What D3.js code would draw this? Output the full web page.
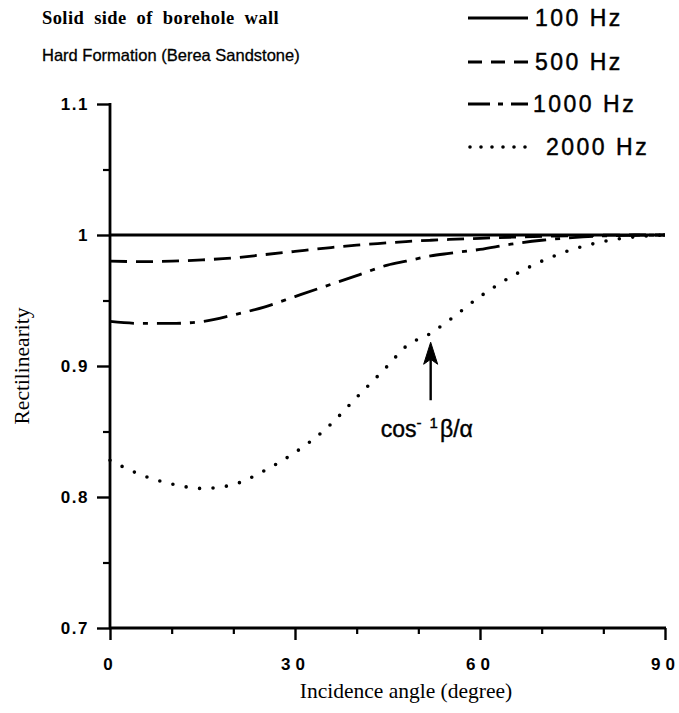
<!DOCTYPE html>
<html>
<head>
<meta charset="utf-8">
<script src="https://cdn.jsdelivr.net/npm/d3@7"></script>
<style>
  html, body { margin: 0; padding: 0; background: #fff; }
  svg { display: block; }
</style>
</head>
<body>
<script>
// ---- data ----
const angles = [0, 5, 10, 15, 20, 25, 30, 35, 40, 45, 48, 52, 55, 60, 65, 70, 75, 80, 85, 90];
const hz100  = [1, 1, 1, 1, 1, 1, 1, 1, 1, 1, 1, 1, 1, 1, 1, 1, 1, 1, 1, 1];
const hz500  = [0.980, 0.9797, 0.980, 0.981, 0.9825, 0.985, 0.9875, 0.990, 0.9923, 0.994, 0.995, 0.996, 0.9966, 0.9975, 0.9983, 0.999, 0.9995, 0.9998, 1.0, 1.0];
const hz1000 = [0.934, 0.9325, 0.9325, 0.934, 0.939, 0.945, 0.953, 0.961, 0.969, 0.977, 0.980, 0.984, 0.986, 0.989, 0.993, 0.996, 0.998, 0.9993, 0.9998, 1.0];
const hz2000 = [0.828, 0.817, 0.810, 0.8065, 0.8095, 0.820, 0.834, 0.852, 0.876, 0.900, 0.915, 0.925, 0.935, 0.953, 0.968, 0.980, 0.989, 0.995, 0.9985, 1.0];
const seriesNames = ["100 Hz", "500 Hz", "1000 Hz", "2000 Hz"];
const xTickLabels = [0, 30, 60, 90];
const yTickLabels = [0.7, 0.8, 0.9, 1.0, 1.1];
const titleText = "Solid side of borehole wall";
const subtitleText = "Hard Formation (Berea Sandstone)";
const xTitle = "Incidence angle (degree)";
const yTitle = "Rectilinearity";
const annotationAngle = 52;
const annotationValue = 0.925;

// ---- layout ----
const W = 679, H = 713;
const svg = d3.select("body").append("svg").attr("width", W).attr("height", H);
svg.append("rect").attr("width", W).attr("height", H).attr("fill", "#fff");

const x = d3.scaleLinear().domain([0, 90]).range([110, 665]);
const y = d3.scaleLinear().domain([0.7, 1.1]).range([628, 104]);

const styles = [
  { dash: null, width: 2.8 },
  { dash: "17,9", width: 2.8 },
  { dash: "24,9,5,9", width: 2.8 },
  { dash: "0,13.5", width: 3.6, cap: "round" }
];
const allSeries = [hz100, hz500, hz1000, hz2000];

const sans = "'Liberation Sans', Arial, Helvetica, sans-serif";
const serif = "'Liberation Serif', 'Times New Roman', serif";

// ---- axes ----
const yMinor = d3.axisLeft(y).tickValues([0.75, 0.85, 0.95, 1.05]).tickSize(7).tickFormat("");
svg.append("g").attr("transform", "translate(110,0)").call(yMinor)
  .call(g => g.select(".domain").remove())
  .call(g => g.selectAll("line").attr("stroke", "#000").attr("stroke-width", 2.2));
const yAxis = d3.axisLeft(y).tickValues(yTickLabels).tickSize(13).tickPadding(8)
  .tickFormat(d => d3.format("")(+d.toFixed(1)));
svg.append("g").attr("transform", "translate(110,0)").call(yAxis)
  .call(g => g.select(".domain").remove())
  .call(g => g.selectAll("line").attr("stroke", "#000").attr("stroke-width", 2.4))
  .call(g => g.selectAll("text").attr("font-family", sans).attr("font-size", 17)
      .attr("font-weight", "bold").attr("fill", "#000").attr("letter-spacing", 1.5));

const xMinor = d3.axisBottom(x).tickValues([10, 20, 40, 50, 70, 80]).tickSize(6).tickFormat("");
svg.append("g").attr("transform", `translate(0,${y(0.7)})`).call(xMinor)
  .call(g => g.select(".domain").remove())
  .call(g => g.selectAll("line").attr("stroke", "#000").attr("stroke-width", 2.2));
const xAxis = d3.axisBottom(x).tickValues(xTickLabels).tickSize(12).tickPadding(18).tickFormat(d3.format("d"));
svg.append("g").attr("transform", `translate(0,${y(0.7)})`).call(xAxis)
  .call(g => g.select(".domain").remove())
  .call(g => g.selectAll("line").attr("stroke", "#000").attr("stroke-width", 2.4))
  .call(g => g.selectAll("text").attr("font-family", sans).attr("font-size", 17)
      .attr("font-weight", "bold").attr("fill", "#000").attr("letter-spacing", 5));

svg.append("line").attr("x1", x(0)).attr("x2", x(0)).attr("y1", y(1.1) - 1).attr("y2", y(0.7) + 1)
  .attr("stroke", "#000").attr("stroke-width", 2.8);
svg.append("line").attr("x1", x(0) - 1).attr("x2", x(90) + 1).attr("y1", y(0.7)).attr("y2", y(0.7))
  .attr("stroke", "#000").attr("stroke-width", 2.8);

// ---- curves ----
const line = d3.line().x(d => x(d[0])).y(d => y(d[1])).curve(d3.curveMonotoneX);
allSeries.forEach((vals, i) => {
  const pts = angles.map((a, j) => [a, vals[j]]);
  const p = svg.append("path").attr("d", line(pts)).attr("fill", "none")
    .attr("stroke", "#000").attr("stroke-width", styles[i].width);
  if (styles[i].dash) p.attr("stroke-dasharray", styles[i].dash);
  if (styles[i].cap) p.attr("stroke-linecap", styles[i].cap);
});

// ---- annotation arrow ----
const ax = x(annotationAngle), ayTip = y(annotationValue) + 9;
svg.append("line").attr("x1", ax).attr("x2", ax).attr("y1", ayTip + 10).attr("y2", ayTip + 58)
  .attr("stroke", "#000").attr("stroke-width", 2.4);
svg.append("path")
  .attr("d", `M${ax},${ayTip} L${ax - 7},${ayTip + 22} L${ax},${ayTip + 17} L${ax + 7},${ayTip + 22} Z`)
  .attr("fill", "#000").attr("stroke", "#000").attr("stroke-width", 1);
const ann = svg.append("text").attr("x", ax - 50).attr("y", ayTip + 95)
  .attr("font-family", sans).attr("font-size", 23).attr("fill", "#000")
  .attr("stroke", "#000").attr("stroke-width", 0.4);
ann.append("tspan").text("cos");
ann.append("tspan").attr("dy", -9).attr("font-size", 15).attr("letter-spacing", 2).text("- 1");
ann.append("tspan").attr("dy", 9).text("β/α");

// ---- titles ----
svg.append("text").attr("x", 42).attr("y", 24).text(titleText)
  .attr("font-family", serif).attr("font-weight", "bold").attr("font-size", 18.5)
  .attr("word-spacing", 5).attr("letter-spacing", 0.4).attr("fill", "#000");
svg.append("text").attr("x", 42).attr("y", 61).text(subtitleText)
  .attr("font-family", sans).attr("font-size", 16.5).attr("fill", "#000")
  .attr("stroke", "#000").attr("stroke-width", 0.3);

svg.append("text").attr("x", 406).attr("y", 698).text(xTitle)
  .attr("text-anchor", "middle").attr("font-family", serif).attr("font-size", 21.5).attr("fill", "#000");
svg.append("text").attr("transform", "translate(29,366) rotate(-90)").text(yTitle)
  .attr("text-anchor", "middle").attr("font-family", serif).attr("font-size", 21.5).attr("fill", "#000");

// ---- legend ----
const legRows = [18, 62, 104, 147];
const legTextX = [535, 535, 533, 546];
seriesNames.forEach((name, i) => {
  const ly = legRows[i];
  const l = svg.append("line").attr("x1", 468).attr("x2", 528).attr("y1", ly).attr("y2", ly)
    .attr("stroke", "#000").attr("stroke-width", styles[i].width);
  if (i === 1) l.attr("stroke-dasharray", "14,9");
  if (i === 2) l.attr("stroke-dasharray", "22,8,5,8");
  if (i === 3) l.attr("stroke-dasharray", "0,11").attr("stroke-linecap", "round").attr("x1", 470);
  svg.append("text").attr("x", legTextX[i]).attr("y", ly + 8).text(name)
    .attr("font-family", sans).attr("font-size", 23).attr("fill", "#000")
    .attr("stroke", "#000").attr("stroke-width", 0.45).attr("letter-spacing", 2.5);
});
</script>
</body>
</html>
